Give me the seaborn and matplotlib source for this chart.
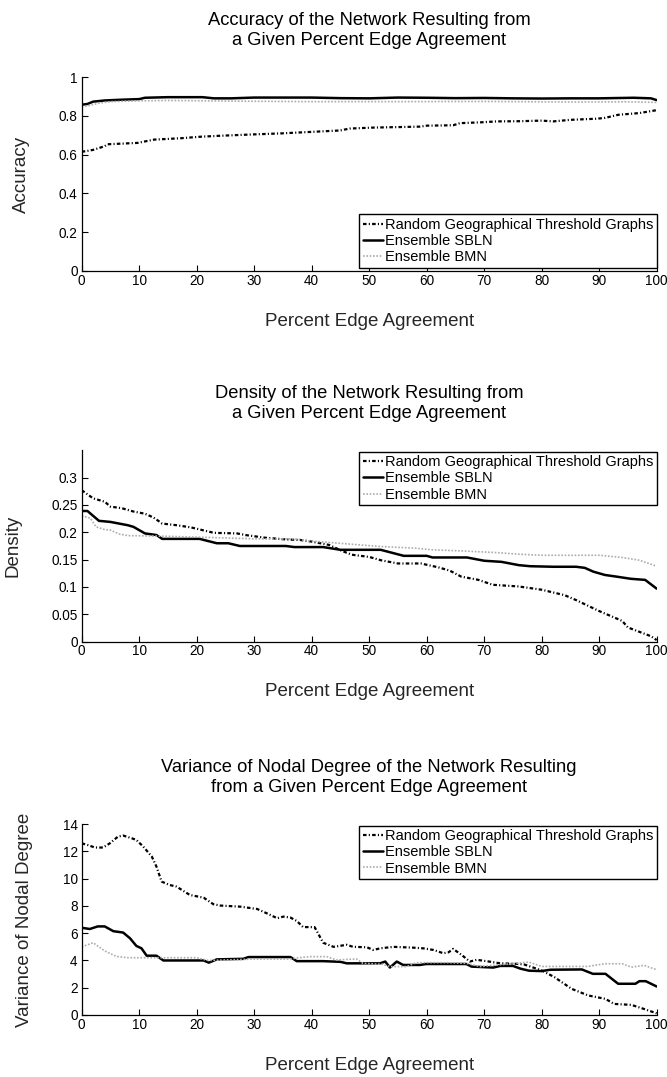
import numpy as np
import pandas as pd
import matplotlib
matplotlib.use("Agg")
import matplotlib.pyplot as plt
from matplotlib.ticker import FuncFormatter
import seaborn as sns

# ---- data ----
series_names = ["Random Geographical Threshold Graphs", "Ensemble SBLN", "Ensemble BMN"]

# accuracy
acc_rgtg_x = [0, 2, 4, 4.5, 9.7, 12.6, 17.2, 20.7, 24.2, 30, 34.6, 38, 41.4, 44.9, 46.6, 50.7,
              58.8, 60, 64.6, 65.8, 69.3, 72.2, 76.2, 80, 82, 85, 89.6, 91, 93.3, 97, 100]
acc_rgtg = [0.615, 0.625, 0.644, 0.654, 0.661, 0.678, 0.685, 0.693, 0.698, 0.705, 0.71, 0.715,
            0.72, 0.725, 0.735, 0.74, 0.745, 0.75, 0.752, 0.763, 0.767, 0.772, 0.773, 0.776,
            0.772, 0.78, 0.786, 0.79, 0.806, 0.815, 0.83]
acc_sbln_x = [0, 1, 2, 4, 7, 10, 11, 15, 21, 23, 26, 30, 37, 40, 45, 50, 55, 60, 65, 70,
              75, 80, 85, 90, 96, 99, 100]
acc_sbln = [0.858, 0.862, 0.874, 0.88, 0.884, 0.887, 0.894, 0.897, 0.897, 0.891, 0.891, 0.895,
            0.895, 0.895, 0.892, 0.891, 0.895, 0.894, 0.892, 0.893, 0.891, 0.89, 0.891, 0.891,
            0.894, 0.891, 0.882]
acc_bmn_x = [0, 1, 3, 5, 10, 15, 25, 40, 55, 70, 85, 95, 100]
acc_bmn = [0.848, 0.852, 0.866, 0.874, 0.878, 0.88, 0.877, 0.874, 0.874, 0.875, 0.872, 0.873, 0.87]

# density
den_rgtg_x = [0, 2, 4, 5, 7, 9, 11, 12.5, 14, 16.5, 19, 21, 23, 27, 28.5, 32, 35.5, 38, 40, 43,
              45.5, 47, 50, 52, 55, 59, 62, 64, 66, 69, 71.5, 74.5, 76, 78, 80, 82, 84, 86, 88, 90,
              92, 94, 95, 97, 99, 100]
den_rgtg = [0.277, 0.262, 0.256, 0.247, 0.244, 0.238, 0.234, 0.227, 0.216, 0.213,
            0.209, 0.204, 0.199, 0.198, 0.195, 0.19, 0.187, 0.186, 0.183, 0.177,
            0.165, 0.159, 0.155, 0.149, 0.143, 0.143, 0.136, 0.13, 0.119, 0.113,
            0.104, 0.102, 0.101, 0.098, 0.095, 0.09, 0.085, 0.076, 0.066, 0.056,
            0.047, 0.038, 0.026, 0.018, 0.01, 0.003]
den_sbln_x = [0, 1, 3, 5, 7, 8, 9, 11, 13, 14, 20.5, 23.5, 25.5, 27.5, 35.5, 37, 42, 45, 52, 56,
              60, 61, 67, 70, 73, 76, 78, 82, 86, 87.5, 89, 91, 93, 95.5, 98, 100]
den_sbln = [0.239, 0.239, 0.221, 0.219, 0.215, 0.213, 0.21, 0.198, 0.195, 0.188,
            0.188, 0.18, 0.18, 0.175, 0.175, 0.173, 0.173, 0.168, 0.168, 0.157,
            0.157, 0.154, 0.154, 0.148, 0.146, 0.14, 0.138, 0.137, 0.137, 0.135,
            0.128, 0.122, 0.119, 0.115, 0.113, 0.097]
den_bmn_x = [0, 1.5, 2.5, 4, 5, 6.5, 8, 14, 24, 30, 37, 40, 46, 52, 58, 61, 66, 72, 76, 80,
             90, 94, 97, 100]
den_bmn = [0.23, 0.226, 0.21, 0.205, 0.204, 0.197, 0.194, 0.193, 0.19, 0.188,
           0.188, 0.184, 0.179, 0.174, 0.171, 0.168, 0.166, 0.163, 0.16, 0.158,
           0.158, 0.154, 0.149, 0.138]

# variance of nodal degree
var_rgtg_x = [0, 1, 2.3, 3.7, 4.9, 6.3, 7.2, 8.7, 9.5, 10.7, 12.2, 13, 13.9, 15.3, 16.5, 18.8,
              21.2, 22.9, 24.1, 27.6, 30.5, 32.2, 34, 35.1, 36.3, 37.4, 38.5, 40.5, 42, 43.8,
              46.1, 47.2, 49.6, 50.7, 51.9, 54.2, 57.7, 59.4, 61.2, 62.9, 63.8, 64.6, 66.1, 67.5,
              68.7, 70.4, 72.8, 76, 77, 80, 82.2, 85.2, 88.1, 91.1, 92.6, 95.6, 97.8, 100]
var_rgtg = [12.6, 12.48, 12.29, 12.29, 12.6, 13.09, 13.17, 12.97, 12.85, 12.36, 11.62, 10.89,
            9.79, 9.54, 9.42, 8.81, 8.61, 8.13, 8.03, 7.95, 7.78, 7.46, 7.1, 7.22, 7.15, 6.9,
            6.45, 6.45, 5.3, 5.0, 5.15, 5.0, 4.97, 4.77, 4.89, 5.0, 4.94, 4.89, 4.77, 4.53,
            4.6, 4.85, 4.4, 3.92, 4.05, 3.95, 3.79, 3.75, 3.7, 3.27, 2.78, 1.92, 1.43, 1.18,
            0.81, 0.74, 0.44, 0.12]
var_sbln_x = [0, 1.4, 2.8, 4, 5.5, 7.2, 8.4, 9.5, 10.4, 11.3, 13, 14.2, 21.2, 22.1, 23.5, 28.1,
              29, 36.3, 37.4, 42, 45, 46.1, 51.9, 52.8, 53.6, 54.8, 55.9, 58.8, 59.9, 66.9,
              67.8, 71.6, 72.8, 75, 76.3, 77.8, 80, 81.5, 87, 88.9, 91.1, 93.3, 96.3, 97, 98.1, 100]
var_sbln = [6.4, 6.31, 6.5, 6.5, 6.15, 6.05, 5.63, 5.07, 4.89, 4.35, 4.35, 4.0, 4.0, 3.84, 4.08,
            4.12, 4.25, 4.25, 3.95, 3.95, 3.9, 3.79, 3.79, 3.92, 3.48, 3.92, 3.67, 3.67, 3.74,
            3.74, 3.55, 3.48, 3.6, 3.6, 3.4, 3.25, 3.22, 3.32, 3.34, 3.02, 3.02, 2.29, 2.29,
            2.48, 2.48, 2.09]
var_bmn_x = [0, 2, 4, 6, 8, 12, 20, 22, 30, 36, 38, 39.7, 42.6, 44.3, 47.8, 48.9, 52.4, 53.6,
             56.5, 58.2, 63.5, 66.9, 69.3, 72.2, 77.8, 80, 88, 91, 94, 95.6, 97.8, 100]
var_bmn = [5.0, 5.3, 4.7, 4.3, 4.2, 4.2, 4.2, 4.0, 4.1, 4.1, 4.21, 4.28, 4.28, 4.04, 4.11, 3.79,
           3.72, 3.55, 3.55, 3.84, 3.84, 3.79, 3.55, 3.67, 3.88, 3.56, 3.56, 3.76, 3.76, 3.51,
           3.64, 3.32]

x_ticks = [0, 10, 20, 30, 40, 50, 60, 70, 80, 90, 100]
acc_ticks = [0, 0.2, 0.4, 0.6, 0.8, 1]
den_ticks = [0, 0.05, 0.1, 0.15, 0.2, 0.25, 0.3]
var_ticks = [0, 2, 4, 6, 8, 10, 12, 14]

sns.set_theme(style="ticks")
plt.rcParams["font.family"] = ["Liberation Sans", "DejaVu Sans"]
plt.rcParams["axes.edgecolor"] = "black"
plt.rcParams["text.color"] = "black"

styles = [
    dict(color="black", lw=1.6, linestyle=(0, (1.6, 1.0, 0.5, 1.0))),
    dict(color="black", lw=1.8, linestyle="-"),
    dict(color="0.68", lw=1.2, linestyle=(0, (1, 1))),
]

panels = [
    ("Accuracy of the Network Resulting from\na Given Percent Edge Agreement", "Accuracy",
     [(acc_rgtg_x, acc_rgtg), (acc_sbln_x, acc_sbln), (acc_bmn_x, acc_bmn)],
     (0, 1), acc_ticks, "lower right", (1.0, 0.015)),
    ("Density of the Network Resulting from\na Given Percent Edge Agreement", "Density",
     [(den_rgtg_x, den_rgtg), (den_sbln_x, den_sbln), (den_bmn_x, den_bmn)],
     (0, 0.35), den_ticks, "upper right", (1.0, 0.993)),
    ("Variance of Nodal Degree of the Network Resulting\nfrom a Given Percent Edge Agreement",
     "Variance of Nodal Degree",
     [(var_rgtg_x, var_rgtg), (var_sbln_x, var_sbln), (var_bmn_x, var_bmn)],
     (0, 14), var_ticks, "upper right", (1.0, 0.993)),
]

# axes rectangles in figure fractions
rects = [
    [0.1225, 0.7484, 0.862, 0.1799],
    [0.1225, 0.4042, 0.862, 0.1777],
    [0.1225, 0.0576, 0.862, 0.1771],
]

fig = plt.figure(figsize=(6.67, 10.77), dpi=100)

for rect, (title, ylabel, data, ylim, yticks, loc, anchor) in zip(rects, panels):
    ax = fig.add_axes(rect)
    for (xs, ys), name, st in zip(data, series_names, styles):
        df = pd.DataFrame({"pct": xs, "val": ys})
        sns.lineplot(data=df, x="pct", y="val", ax=ax, errorbar=None, label=name, **st)
    ax.set_xlim(0, 100)
    ax.set_ylim(*ylim)
    ax.set_xticks(x_ticks)
    ax.set_yticks(yticks)
    ax.yaxis.set_major_formatter(FuncFormatter(lambda v, p: f"{v:g}"))
    ax.xaxis.set_major_formatter(FuncFormatter(lambda v, p: f"{v:g}"))
    sns.despine(ax=ax)
    for s in ["left", "bottom"]:
        ax.spines[s].set_linewidth(0.9)
        ax.spines[s].set_color("black")
    ax.tick_params(direction="in", length=4, width=0.8, labelsize=9.8, colors="black", pad=3)
    ax.tick_params(axis="x", pad=2)
    ax.set_title(title, fontsize=13.2, pad=23, linespacing=1.25)
    ax.set_xlabel("Percent Edge Agreement", fontsize=13.5, labelpad=18)
    ax.set_ylabel(ylabel, fontsize=13.5, labelpad=21)
    leg = ax.legend(loc=loc, bbox_to_anchor=anchor, borderaxespad=0, fontsize=10.5,
                    frameon=True, fancybox=False, framealpha=1, edgecolor="black",
                    handlelength=1.4, handletextpad=0.1, labelspacing=0.15,
                    borderpad=0.25)
    leg.get_frame().set_linewidth(1.0)

fig.savefig("out.png", dpi=100)
